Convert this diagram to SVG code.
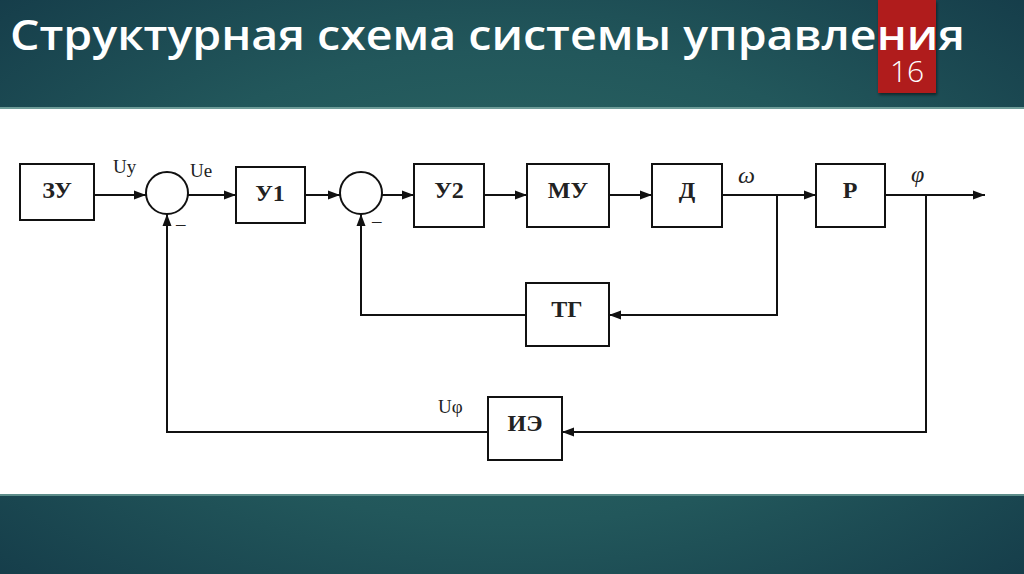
<svg xmlns="http://www.w3.org/2000/svg" width="1024" height="574" viewBox="0 0 1024 574">
  <defs>
    <radialGradient id="bg" cx="0.5" cy="0.5" r="0.75">
      <stop offset="0" stop-color="#2f6c66"/>
      <stop offset="0.55" stop-color="#22575b"/>
      <stop offset="1" stop-color="#143a48"/>
    </radialGradient>
    <marker id="arr" viewBox="0 0 12 10" refX="12" refY="5" markerWidth="12" markerHeight="10" markerUnits="userSpaceOnUse" orient="auto">
      <path d="M0,0.5 L12,5 L0,9.5 Z" fill="#111"/>
    </marker>
    <filter id="sh" x="-20%" y="-20%" width="140%" height="140%">
      <feDropShadow dx="1" dy="2" stdDeviation="1.5" flood-color="#000" flood-opacity="0.5"/>
    </filter>
  </defs>
  <style>
    .blk { fill: #fff; stroke: #111; stroke-width: 2; }
    .sum { fill: #fff; stroke: #111; stroke-width: 2; }
    .ln { fill: none; stroke: #111; stroke-width: 2; }
    .lbl { font-family: "Liberation Serif", "DejaVu Serif", serif; font-size: 24px; font-weight: bold; fill: #222; text-anchor: middle; }
    .sig { font-family: "Liberation Serif", "DejaVu Serif", serif; font-size: 19px; fill: #222; }
    .it { font-style: italic; font-size: 24px; }
    .title { font-family: "Open Sans", "Noto Sans", "DejaVu Sans", sans-serif; font-size: 42px; font-weight: 600; fill: #fff; }
    .num { font-family: "Open Sans", "Noto Sans", sans-serif; font-size: 30px; fill: #fff; font-weight: 300; }
  </style>

  <rect x="0" y="0" width="1024" height="574" fill="url(#bg)"/>
  <rect x="0" y="107" width="1024" height="2" fill="#6e9c98"/>
  <rect x="0" y="109" width="1024" height="386" fill="#ffffff"/>
  <rect x="0" y="494" width="1024" height="2" fill="#5d8d8a"/>

  <rect x="878" y="0" width="58" height="93" fill="#b01d1b" filter="url(#sh)"/>
  <text class="num" x="907" y="82" text-anchor="middle">16</text>
  <text class="title" x="10" y="50" textLength="955" lengthAdjust="spacingAndGlyphs">Структурная схема системы управления</text>

  <g id="connectors">
    <line class="ln" x1="94" y1="195" x2="146" y2="195" marker-end="url(#arr)"/>
    <line class="ln" x1="188" y1="195" x2="236" y2="195" marker-end="url(#arr)"/>
    <line class="ln" x1="305" y1="195" x2="340" y2="195" marker-end="url(#arr)"/>
    <line class="ln" x1="382" y1="195" x2="414" y2="195" marker-end="url(#arr)"/>
    <line class="ln" x1="484" y1="195" x2="527" y2="195" marker-end="url(#arr)"/>
    <line class="ln" x1="609" y1="195" x2="652" y2="195" marker-end="url(#arr)"/>
    <line class="ln" x1="722" y1="195" x2="816" y2="195" marker-end="url(#arr)"/>
    <line class="ln" x1="885" y1="195" x2="985" y2="195" marker-end="url(#arr)"/>
    <polyline class="ln" points="777,195 777,315 609,315" marker-end="url(#arr)"/>
    <polyline class="ln" points="526,315 361,315 361,214" marker-end="url(#arr)"/>
    <polyline class="ln" points="926,195 926,432 562,432" marker-end="url(#arr)"/>
    <polyline class="ln" points="488,432 167,432 167,214" marker-end="url(#arr)"/>
    <text class="sig" x="113" y="173">Uy</text>
    <text class="sig" x="190" y="177">Ue</text>
    <text class="sig it" x="738" y="183">ω</text>
    <text class="sig it" x="911" y="182">φ</text>
    <text class="sig" x="438" y="413">Uφ</text>
    <text class="sig" x="176" y="230">–</text>
    <text class="sig" x="372" y="227">–</text>
  </g>

  <g id="s1"><circle class="sum" cx="167" cy="193" r="21"/></g>
  <g id="s2"><circle class="sum" cx="361" cy="193" r="21"/></g>

  <g id="zu"><rect class="blk" x="20" y="164" width="74" height="56"/><text class="lbl" x="57" y="198">ЗУ</text></g>
  <g id="u1"><rect class="blk" x="236" y="167" width="69" height="56"/><text class="lbl" x="270" y="201">У1</text></g>
  <g id="u2"><rect class="blk" x="414" y="164" width="70" height="63"/><text class="lbl" x="449" y="198">У2</text></g>
  <g id="mu"><rect class="blk" x="527" y="164" width="82" height="63"/><text class="lbl" x="568" y="198">МУ</text></g>
  <g id="d"><rect class="blk" x="652" y="164" width="70" height="63"/><text class="lbl" x="687" y="198">Д</text></g>
  <g id="r"><rect class="blk" x="816" y="164" width="69" height="63"/><text class="lbl" x="850" y="198">Р</text></g>
  <g id="tg"><rect class="blk" x="526" y="283" width="83" height="63"/><text class="lbl" x="567" y="317">ТГ</text></g>
  <g id="ie"><rect class="blk" x="488" y="397" width="74" height="63"/><text class="lbl" x="525" y="431">ИЭ</text></g>
</svg>
